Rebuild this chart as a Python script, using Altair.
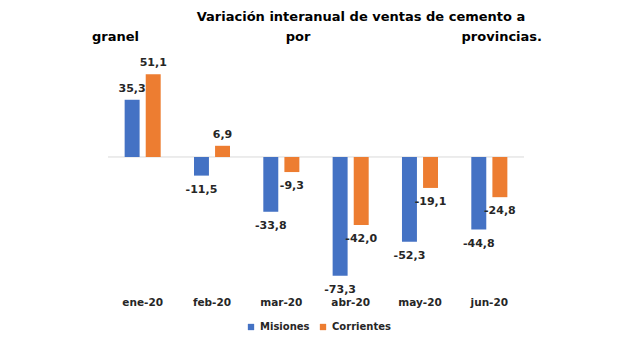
import altair as alt
import pandas as pd

months = ["ene-20", "feb-20", "mar-20", "abr-20", "may-20", "jun-20"]
series_names = ["Misiones", "Corrientes"]
misiones = [35.3, -11.5, -33.8, -73.3, -52.3, -44.8]
corrientes = [51.1, 6.9, -9.3, -42.0, -19.1, -24.8]
colors = ["#4472C4", "#ED7D31"]

title_line1 = "Variación interanual de ventas de cemento a"
title_line2 = ["granel", "por", "provincias."]

rows = []
for i, m in enumerate(months):
    for s, vals in zip(series_names, [misiones, corrientes]):
        v = vals[i]
        rows.append({"mes": m, "serie": s, "valor": v,
                     "etiqueta": f"{v:.1f}".replace(".", ",")})
df = pd.DataFrame(rows)

FONT = "DejaVu Sans"
YDOM = [-83.3, 66]

x = alt.X("mes:N", sort=months,
          scale=alt.Scale(paddingInner=0.48, paddingOuter=0.24),
          axis=alt.Axis(title=None, labelAngle=0, domain=False, ticks=False,
                        labelFont=FONT, labelFontWeight="bold", labelFontSize=10.5,
                        labelColor="#262626", labelPadding=5))
xoff = alt.XOffset("serie:N", sort=series_names, scale=alt.Scale(paddingInner=0.29))
y = alt.Y("valor:Q", scale=alt.Scale(domain=YDOM, nice=False, zero=False), axis=None)
color = alt.Color("serie:N", sort=series_names,
                  scale=alt.Scale(domain=series_names, range=colors),
                  legend=alt.Legend(title=None, orient="none", legendX=138, legendY=272,
                                    direction="horizontal", symbolType="square",
                                    symbolSize=40, symbolStrokeWidth=0,
                                    labelFont=FONT, labelFontWeight="bold",
                                    labelFontSize=10, labelColor="#262626",
                                    columnPadding=8))

base = alt.Chart(df)

zero = base.transform_filter(
    "datum.mes == 'ene-20' && datum.serie == 'Misiones'"
).transform_calculate(cero="0").mark_rule(color="#D9D9D9", strokeWidth=1).encode(
    y=alt.Y("cero:Q", scale=alt.Scale(domain=YDOM, nice=False, zero=False), axis=None)
)

bars = base.mark_bar().encode(x=x, xOffset=xoff, y=y, color=color)

pos_labels = base.transform_filter("datum.valor >= 0").mark_text(
    baseline="bottom", dy=-6, font=FONT, fontWeight="bold", fontSize=11, color="#262626"
).encode(x=x, xOffset=xoff, y=y, text="etiqueta:N")

neg_labels = base.transform_filter("datum.valor < 0").mark_text(
    baseline="top", dy=8, font=FONT, fontWeight="bold", fontSize=11, color="#262626"
).encode(x=x, xOffset=xoff, y=y, text="etiqueta:N")

def title_piece(text, align, px, py):
    return base.transform_filter("datum.mes == 'ene-20' && datum.serie == 'Misiones'").mark_text(
        align=align, baseline="middle", font=FONT, fontWeight="bold",
        fontSize=13, color="#000000"
    ).encode(text=alt.value(text), x=alt.value(px), y=alt.value(py))

t1 = title_piece(title_line1, "center", 253, -33)
t2 = title_piece(title_line2[0], "left", -16, -13)
t3 = title_piece(title_line2[1], "center", 190, -13)
t4 = title_piece(title_line2[2], "right", 434, -13)

chart = alt.layer(zero, bars, pos_labels, neg_labels, t1, t2, t3, t4).properties(
    width=416, height=242,
    autosize=alt.AutoSizeParams(type="none"),
    padding={"left": 108, "top": 50, "right": 116, "bottom": 46},
    background="white",
).configure_view(stroke=None)

chart.save("out.html", embed_options={"renderer": "svg", "actions": False})
